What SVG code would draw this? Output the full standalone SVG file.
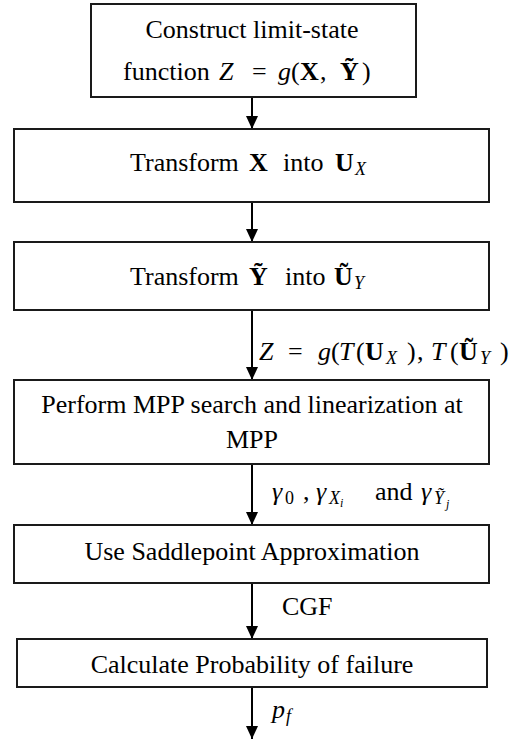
<svg xmlns="http://www.w3.org/2000/svg" width="529" height="739" viewBox="0 0 529 739">
<defs>
<style>
.box{fill:#fff;stroke:#1a1a1a;stroke-width:2}
.t{font-family:"Liberation Serif","Times New Roman",serif;font-size:26px;fill:#000}
.c{text-anchor:middle}
.mi{font-style:italic}
.b{font-weight:bold}
.sub{font-size:18px;font-style:italic}
.ss{font-size:12px;font-style:italic}
.conn{stroke:#000;stroke-width:2;fill:none;marker-end:url(#ah)}
</style>
<marker id="ah" markerWidth="13" markerHeight="12" refX="13" refY="6" orient="auto" markerUnits="userSpaceOnUse">
<path d="M0,0 L13,6 L0,12 z" fill="#000"/>
</marker>
</defs>
<rect width="529" height="739" fill="#fff"/>

<g id="connectors">
<line class="conn" x1="252" y1="97" x2="252" y2="129"/>
<line class="conn" x1="252" y1="202" x2="252" y2="242"/>
<line class="conn" x1="252" y1="310" x2="252" y2="380"/>
<line class="conn" x1="252" y1="464" x2="252" y2="525"/>
<line class="conn" x1="252" y1="583" x2="252" y2="639"/>
<line class="conn" x1="252" y1="687" x2="252" y2="739"/>
</g>

<g id="labels">
<text class="t" y="360" xml:space="preserve"><tspan x="259" class="mi">Z</tspan><tspan x="288">=</tspan><tspan x="318" class="mi">g</tspan><tspan x="331">(</tspan><tspan x="339" class="mi">T</tspan><tspan x="356">(</tspan><tspan x="365" class="b">U</tspan><tspan x="386" y="364" class="sub">X</tspan><tspan x="407" y="360">)</tspan><tspan x="417">,</tspan><tspan x="431" class="mi">T</tspan><tspan x="450">(</tspan><tspan x="459" class="b">Ũ</tspan><tspan x="480" y="364" class="sub">Y</tspan><tspan x="500" y="360">)</tspan></text>
<text class="t" y="500" xml:space="preserve"><tspan x="272" class="mi">γ</tspan><tspan x="285" y="504" font-size="18">0</tspan><tspan x="303" y="500">,</tspan><tspan x="316" class="mi">γ</tspan><tspan x="329" y="504" class="sub">X</tspan><tspan x="340" y="507" class="ss">i</tspan><tspan x="375" y="500">and</tspan><tspan x="421" class="mi">γ</tspan><tspan x="434" y="504" class="sub">Ỹ</tspan><tspan x="446" y="508" class="ss">j</tspan></text>
<text class="t" x="282" y="615">CGF</text>
<text class="t" y="718"><tspan x="272" class="mi">p</tspan><tspan x="286" y="722" class="sub">f</tspan></text>
</g>

<g id="n1">
<rect class="box" x="91" y="4" width="325" height="93"/>
<text class="t c" x="252" y="38">Construct limit-state</text>
<text class="t" y="80"><tspan x="123">function</tspan><tspan x="219" class="mi">Z</tspan><tspan x="252">=</tspan><tspan x="278" class="mi">g</tspan><tspan x="291">(</tspan><tspan x="300" class="b">X</tspan><tspan x="320">,</tspan><tspan x="340" class="b">Ỹ</tspan><tspan x="362">)</tspan></text>
</g>

<g id="n2">
<rect class="box" x="14" y="129" width="475" height="73"/>
<text class="t" y="171"><tspan x="130">Transform</tspan><tspan x="249" class="b">X</tspan><tspan x="283">into</tspan><tspan x="335" class="b">U</tspan><tspan x="355" y="175" class="sub">X</tspan></text>
</g>

<g id="n3">
<rect class="box" x="14" y="242" width="475" height="68"/>
<text class="t" y="285"><tspan x="130">Transform</tspan><tspan x="249" class="b">Ỹ</tspan><tspan x="285">into</tspan><tspan x="334" class="b">Ũ</tspan><tspan x="354" y="289" class="sub">Y</tspan></text>
</g>

<g id="n4">
<rect class="box" x="14" y="380" width="475" height="84"/>
<text class="t c" x="252" y="413">Perform MPP search and linearization at</text>
<text class="t c" x="252" y="448">MPP</text>
</g>

<g id="n5">
<rect class="box" x="14" y="525" width="475" height="58"/>
<text class="t c" x="252" y="560">Use Saddlepoint Approximation</text>
</g>

<g id="n6">
<rect class="box" x="17" y="639" width="470" height="48"/>
<text class="t c" x="252" y="673">Calculate Probability of failure</text>
</g>
</svg>
